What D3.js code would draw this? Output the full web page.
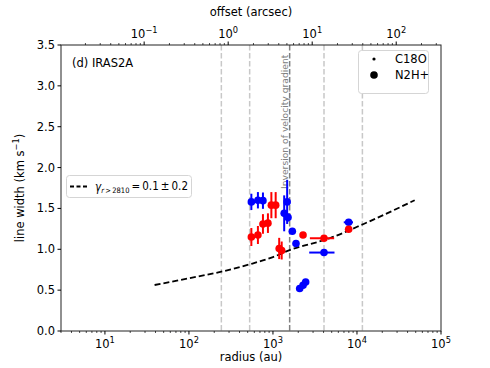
<!DOCTYPE html>
<html><head><meta charset="utf-8">
<script src="https://cdn.jsdelivr.net/npm/d3@7"></script>
<style>body{margin:0;background:#fff}svg{font-family:"DejaVu Sans",sans-serif}</style>
</head><body><svg id="c" width="490" height="368"></svg>
<script>
// ---- data ----
const blueR    = [553, 662, 760, 1475, 1360, 1510, 1700, 1880, 4050, 7960, 2080, 2280, 2450];
const blueW    = [1.58, 1.60, 1.595, 1.58, 1.44, 1.39, 1.22, 1.07, 0.96, 1.33, 0.52, 0.56, 0.60];
const blueWErr = [0.10, 0.10, 0.10, 0.27, 0.22, 0.05, 0.03, 0.03, 0.03, 0.03, 0.02, 0.02, 0.02];
const blueRErr = [0, 0, 0, 0, 0, 0, 0, 0, 1350, 1000, 0, 0, 0];
const redR     = [553, 662, 760, 871, 957, 1077, 1186, 1270, 2280, 4050, 7960];
const redW     = [1.15, 1.175, 1.31, 1.32, 1.54, 1.54, 1.01, 0.985, 1.175, 1.135, 1.245];
const redWErr  = [0.11, 0.11, 0.12, 0.12, 0.16, 0.16, 0.13, 0.11, 0.02, 0.02, 0.02];
const redRErr  = [0, 0, 0, 0, 0, 0, 0, 0, 0, 1300, 0];
const fitR     = [39, 100, 243, 528, 1000, 1580, 4730, 12000, 48600];
const fitW     = [0.563, 0.645, 0.726, 0.816, 0.905, 0.99, 1.135, 1.31, 1.60];
const vlinesR  = [243, 528, 4050, 11600];
const inversionR = 1580;
const xTicks   = [1e1, 1e2, 1e3, 1e4, 1e5];
const topTicks = [1e-1, 1e0, 1e1, 1e2];
const yTicks   = [0, 0.5, 1.0, 1.5, 2.0, 2.5, 3.0, 3.5];
const distancePc = 293;

// ---- layout ----
const L = 61, R = 441, T = 45, B = 331;
const svg = d3.select("#c");
const x = d3.scaleLog().domain([3, 1e5]).range([L, R]);
const xt = d3.scaleLog().domain([3 / distancePc, 1e5 / distancePc]).range([L, R]);
const y = d3.scaleLinear().domain([0, 3.5]).range([B, T]);
const FS = 11.5;

// vertical dashed lines
svg.selectAll("line.vl").data(vlinesR).enter().append("line")
  .attr("x1", d => x(d)).attr("x2", d => x(d)).attr("y1", T).attr("y2", B)
  .attr("stroke", "#c8c8c8").attr("stroke-width", 1.5).attr("stroke-dasharray", "5.5,2.5");
svg.append("line").attr("x1", x(inversionR)).attr("x2", x(inversionR)).attr("y1", T).attr("y2", B)
  .attr("stroke", "#808080").attr("stroke-width", 1.5).attr("stroke-dasharray", "5.5,2.5");
svg.append("text").attr("transform", `translate(${x(inversionR) - 2},189) rotate(-90)`)
  .attr("font-size", 9.2).attr("fill", "#808080").text("Inversion of velocity gradient");

// fit curve
const line = d3.line().x((d, i) => x(fitR[i])).y((d, i) => y(fitW[i])).curve(d3.curveMonotoneX);
svg.append("path").attr("d", line(fitR)).attr("fill", "none").attr("stroke", "#000")
  .attr("stroke-width", 1.8).attr("stroke-dasharray", "6,3");

function drawSeries(R, W, WE, RE, color) {
  const g = svg.append("g");
  R.forEach((r, i) => {
    if (WE[i] > 0) g.append("line").attr("x1", x(r)).attr("x2", x(r))
      .attr("y1", y(W[i] - WE[i])).attr("y2", y(W[i] + WE[i])).attr("stroke", color).attr("stroke-width", 2);
    if (RE[i] > 0) g.append("line").attr("y1", y(W[i])).attr("y2", y(W[i]))
      .attr("x1", x(r - RE[i])).attr("x2", x(r + RE[i])).attr("stroke", color).attr("stroke-width", 2);
  });
  g.selectAll("circle").data(R).enter().append("circle")
    .attr("cx", d => x(d)).attr("cy", (d, i) => y(W[i])).attr("r", 3.8).attr("fill", color);
}
drawSeries(blueR, blueW, blueWErr, blueRErr, "#0000ff");
drawSeries(redR, redW, redWErr, redRErr, "#ff0000");

// frame
svg.append("rect").attr("x", L).attr("y", T).attr("width", R - L).attr("height", B - T)
  .attr("fill", "none").attr("stroke", "#222").attr("stroke-width", 1);

function pow10Label(sel, v) {
  const e = Math.round(Math.log10(v));
  sel.text("10");
  sel.append("tspan").attr("font-size", FS * 0.72).attr("dy", "-0.55em").text(e < 0 ? "\u2212" + (-e) : e);
}
function minorTicks(scale) {
  const out = [];
  const [a, b] = scale.domain();
  for (let p = Math.floor(Math.log10(a)); p <= Math.ceil(Math.log10(b)); p++)
    for (let m = 2; m <= 9; m++) { const v = m * Math.pow(10, p); if (v >= a && v <= b) out.push(v); }
  return out;
}
// bottom axis
const gb = svg.append("g");
xTicks.forEach(v => {
  gb.append("line").attr("x1", x(v)).attr("x2", x(v)).attr("y1", B).attr("y2", B + 3.5).attr("stroke", "#000");
  const t = gb.append("text").attr("x", x(v)).attr("y", B + 17).attr("text-anchor", "middle").attr("font-size", FS);
  pow10Label(t, v);
});
minorTicks(x).forEach(v => gb.append("line").attr("x1", x(v)).attr("x2", x(v)).attr("y1", B).attr("y2", B + 2).attr("stroke", "#000").attr("stroke-width", 0.7));
svg.append("text").attr("x", (L + R) / 2).attr("y", 361).attr("text-anchor", "middle").attr("font-size", FS).text("radius (au)");
// top axis
const gt = svg.append("g");
topTicks.forEach(v => {
  gt.append("line").attr("x1", xt(v)).attr("x2", xt(v)).attr("y1", T).attr("y2", T - 3.5).attr("stroke", "#000");
  const t = gt.append("text").attr("x", xt(v)).attr("y", T - 7).attr("text-anchor", "middle").attr("font-size", FS);
  pow10Label(t, v);
});
minorTicks(xt).forEach(v => gt.append("line").attr("x1", xt(v)).attr("x2", xt(v)).attr("y1", T).attr("y2", T - 2).attr("stroke", "#000").attr("stroke-width", 0.7));
svg.append("text").attr("x", (L + R) / 2).attr("y", 16).attr("text-anchor", "middle").attr("font-size", FS).text("offset (arcsec)");
// left axis
const gl = svg.append("g");
yTicks.forEach(v => {
  gl.append("line").attr("x1", L).attr("x2", L - 3.5).attr("y1", y(v)).attr("y2", y(v)).attr("stroke", "#000");
  gl.append("text").attr("x", L - 6).attr("y", y(v) + 4).attr("text-anchor", "end").attr("font-size", FS).text(v.toFixed(1));
});
const yl = svg.append("text").attr("transform", `translate(24,${(T + B) / 2}) rotate(-90)`)
  .attr("text-anchor", "middle").attr("font-size", FS).text("line width (km s");
yl.append("tspan").attr("font-size", FS * 0.72).attr("dy", "-0.55em").text("\u22121");
yl.append("tspan").attr("dy", "0.4em").text(")");

// panel label
svg.append("text").attr("x", 72).attr("y", 67).attr("font-size", FS).text("(d) IRAS2A");

// legend top right
svg.append("rect").attr("x", 358.5).attr("y", 50.5).attr("width", 70).attr("height", 43).attr("rx", 3)
  .attr("fill", "#fff").attr("stroke", "#d5d5d5");
svg.append("circle").attr("cx", 374).attr("cy", 59).attr("r", 1.6).attr("fill", "#000");
svg.append("text").attr("x", 395).attr("y", 63).attr("font-size", FS).text("C18O");
svg.append("circle").attr("cx", 374).attr("cy", 75).attr("r", 3.8).attr("fill", "#000");
svg.append("text").attr("x", 395).attr("y", 79).attr("font-size", FS).text("N2H+");

// legend fit
svg.append("rect").attr("x", 66.5).attr("y", 175.5).attr("width", 125).attr("height", 22).attr("rx", 3)
  .attr("fill", "#fff").attr("stroke", "#d5d5d5");
svg.append("line").attr("x1", 70).attr("x2", 87).attr("y1", 186.5).attr("y2", 186.5)
  .attr("stroke", "#000").attr("stroke-width", 1.8).attr("stroke-dasharray", "4,2.5");
const ft = svg.append("text").attr("x", 95).attr("y", 191).attr("font-size", FS)
  .attr("textLength", 93).attr("lengthAdjust", "spacingAndGlyphs");
ft.append("tspan").attr("font-style", "italic").text("\u03b3");
ft.append("tspan").attr("font-size", 7.5).attr("dy", "0.3em").attr("font-style", "italic").text("r");
ft.append("tspan").attr("font-size", 7.5).text("\u2009>\u20092810");
ft.append("tspan").attr("dy", "-0.3em").text("\u2009=\u20090.1\u2009\u00b1\u20090.2");
</script></body></html>
